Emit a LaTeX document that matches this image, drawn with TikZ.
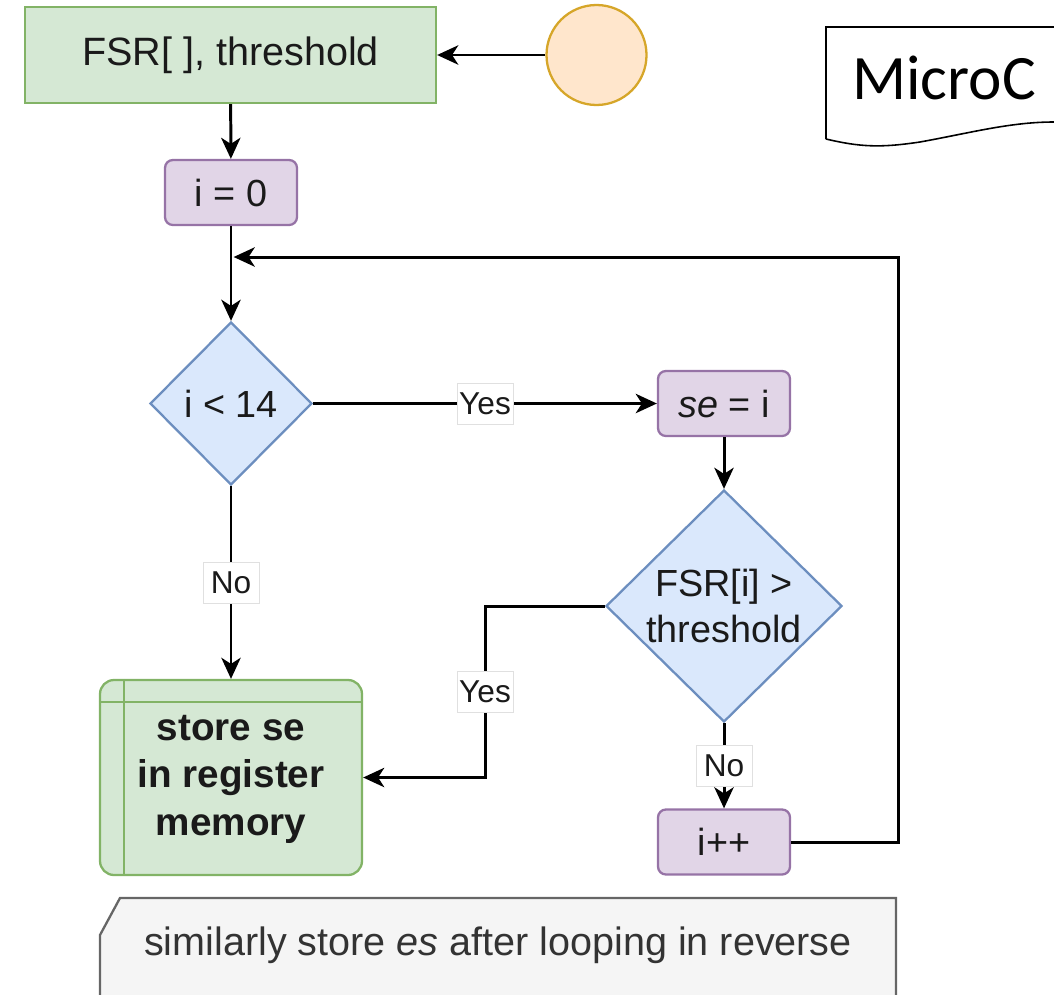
\documentclass[tikz,border=0pt]{standalone}
\usepackage{fontspec}
\setmainfont{Liberation Sans}
\newfontfamily\calibrifont{Carlito}
\usetikzlibrary{shapes.geometric,arrows.meta}
\definecolor{gfill}{HTML}{D5E8D4}
\definecolor{gline}{HTML}{82B366}
\definecolor{pfill}{HTML}{E1D5E7}
\definecolor{pline}{HTML}{9673A6}
\definecolor{bfill}{HTML}{DAE8FC}
\definecolor{bline}{HTML}{6C8EBF}
\definecolor{ofill}{HTML}{FFE6CC}
\definecolor{oline}{HTML}{D6A629}
\definecolor{nfill}{HTML}{F5F5F5}
\definecolor{nline}{HTML}{666666}
\definecolor{ntext}{HTML}{333333}
\definecolor{txt}{HTML}{1A1A1A}
\begin{document}
\begin{tikzpicture}[x=0.2mm,y=-0.2mm,
  base/.style={font=\fontsize{21.5}{26.5}\selectfont, text=txt, align=center, inner sep=0pt},
  greenbox/.style={base, rectangle, draw=gline, fill=gfill, line width=1.3pt},
  purplebox/.style={base, rectangle, rounded corners=4.5pt, draw=pline, fill=pfill, line width=1.3pt, minimum width=26.4mm, minimum height=13mm},
  decision/.style={base, diamond, draw=bline, fill=bfill, line width=1.3pt},
  lbl/.style={font=\fontsize{18}{20}\selectfont, text=txt, fill=white, draw=black!12, line width=0.4pt, inner sep=0pt, minimum width=11.2mm, minimum height=8.2mm},
  flow/.style={line width=1.7pt, draw=black, -{Stealth[length=12pt,width=11pt,inset=3.5pt]}}
]
\useasboundingbox (0,0) rectangle (1054,994);
\clip (0,0) rectangle (1054,994);

% nodes
\node[greenbox, minimum width=82.2mm, minimum height=19.2mm, font=\fontsize{22.5}{27}\selectfont] (fsr) at (230.5,55) {FSR[ ], threshold};
\node[circle, draw=oline, fill=ofill, line width=1.3pt, minimum size=20mm, inner sep=0pt] (start) at (596.5,55) {};
\node[purplebox] (init) at (231,192.5) {i = 0};
\node[decision, minimum width=32.4mm, minimum height=32.6mm] (cond) at (231,403.5) {i < 14};
\node[purplebox] (se) at (724,403.5) {\textit{se} = i};
\node[decision, minimum width=47.2mm, minimum height=46.4mm] (cmp) at (724,606) {FSR[i] >\\threshold};
\node[purplebox] (inc) at (724,842) {i++};
\node[greenbox, rounded corners=8pt, minimum width=52.4mm, minimum height=39mm] (store) at (231,777.5) {};
\node[font=\fontsize{22}{27}\selectfont\bfseries, text=txt, align=center, inner sep=0pt] (storetext) at (231,779) {store se\\in register\\memory};
\draw[gline, line width=1.3pt] ([yshift=-4.6mm]store.north west) -- ([yshift=-4.6mm]store.north east);
\draw[gline, line width=1.3pt] ([xshift=5mm]store.north west) -- ([xshift=5mm]store.south west);

% connectors
\coordinate (yk) at (485,606);
\coordinate (lr) at (898,257);
\draw[flow] (start) -- (fsr);
\draw[flow] (fsr) -- (init);
\draw[flow] (init) -- (cond);
\draw[flow] (cond) -- node[lbl] (l1) {Yes} (se);
\draw[flow] (se) -- (cmp);
\draw[flow] (cmp) -- node[lbl] (l2) {No} (inc);
\draw[flow] (cond) -- node[lbl] (l3) {No} (store);
\draw[flow] (cmp.west) -- (yk) |- node[lbl, pos=0.25] (l4) {Yes} (store.east);
\draw[flow] (inc.east) -| (lr) -- ([xshift=1.5pt]init |- lr);

% note
\draw[fill=nfill, draw=nline, line width=1.3pt] (100,1010) -- (100,935) -- (120,898) -- (896,898) -- (896,1010);
\node[font=\fontsize{22.5}{27}\selectfont, text=ntext, inner sep=0pt] (note) at (498,945) {similarly store \textit{es} after looping in reverse};

% MicroC
\draw[fill=white, draw=black, line width=0.9pt] (826,139) -- (826,27) -- (1070,27) -- (1070,121) -- (1054,122)
  .. controls (1010,122) and (970,133) .. (920,142) .. controls (880,148) and (860,147) .. (826,139);
\node[font=\calibrifont\fontsize{36}{40}\selectfont, inner sep=0pt] (micro) at (944,78) {MicroC};
\end{tikzpicture}
\end{document}
